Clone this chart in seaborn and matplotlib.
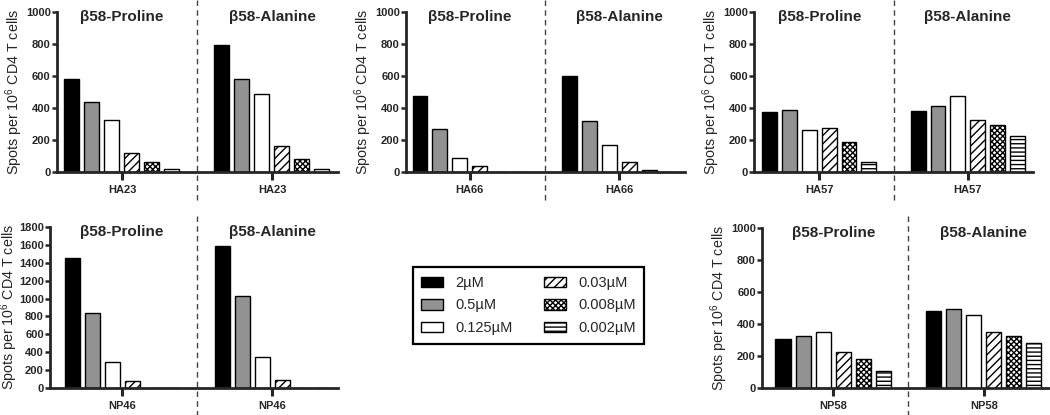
import numpy as np
import pandas as pd
import matplotlib
matplotlib.use("Agg")
import matplotlib.pyplot as plt
from matplotlib.patches import Patch
import seaborn as sns

# concentrations (legend order)
concentrations = ["2µM", "0.5µM", "0.125µM", "0.03µM", "0.008µM", "0.002µM"]
variants = ["β58-Proline", "β58-Alanine"]

# spots per 10^6 CD4 T cells
ha23_pro = [580, 440, 325, 120, 60, 20]
ha23_ala = [795, 580, 490, 165, 80, 20]
ha66_pro = [475, 270, 85, 35, 0, 0]
ha66_ala = [600, 320, 168, 65, 12, 0]
ha57_pro = [375, 390, 260, 272, 185, 65]
ha57_ala = [380, 415, 478, 322, 292, 222]
np46_pro = [1455, 835, 295, 80, 0, 0]
np46_ala = [1590, 1030, 350, 95, 0, 0]
np58_pro = [305, 325, 350, 222, 180, 105]
np58_ala = [480, 495, 458, 348, 325, 283]

fills = ["#000000", "#929292", "#ffffff", "#ffffff", "#ffffff", "#ffffff"]
hatches = ["", "", "", "////", "xxxxxx", "----"]
palette = dict(zip(concentrations, fills))

sns.set_style("ticks")
plt.rcParams["font.family"] = ["Liberation Sans", "DejaVu Sans"]
plt.rcParams["mathtext.fontset"] = "custom"
plt.rcParams["mathtext.rm"] = "Liberation Sans"
plt.rcParams["hatch.linewidth"] = 1.0

W, H = 1050, 415
fig = plt.figure(figsize=(W / 100, H / 100), dpi=100)


def make_panel(px_left, px_right, px_top, px_bottom, pro, ala, peptide, ymax, xleft,
               label_px=None):
    ax = fig.add_axes([px_left / W, 1 - px_bottom / H,
                       (px_right - px_left) / W, (px_bottom - px_top) / H])
    df = pd.DataFrame({
        "variant": np.repeat(variants, len(concentrations)),
        "conc": concentrations * 2,
        "spots": list(pro) + list(ala),
    })
    sns.barplot(data=df, x="variant", y="spots", hue="conc", order=variants,
                hue_order=concentrations, palette=palette, width=0.8, gap=0.25,
                edgecolor="black", linewidth=1.0, saturation=1, legend=False,
                errorbar=None, ax=ax)
    for cont, h in zip(ax.containers, hatches):
        for bar in cont:
            bar.set_hatch(h)
    ax.set_xlim(xleft, 1.44)
    ax.set_ylim(0, ymax)
    ax.set_yticks(np.arange(0, ymax + 1, 200))
    ax.set_xticks([0, 1])
    ax.set_xticklabels([peptide, peptide], fontweight="bold", fontsize=8)
    for lab in ax.get_yticklabels():
        lab.set_fontweight("bold")
        lab.set_fontsize(8)
    ax.tick_params(axis="y", length=3.5, width=1.8, pad=1.0)
    ax.tick_params(axis="x", length=6, width=2.2, pad=3)
    sns.despine(ax=ax)
    for s in ["left", "bottom"]:
        ax.spines[s].set_linewidth(2.0)
    ax.set_xlabel("")
    ax.set_ylabel("Spots per 10$^{6}$ CD4 T cells", fontsize=10.3, labelpad=0.5)
    if label_px is not None:
        # right edge of the rotated label, in figure pixels
        ax.yaxis.set_label_coords((label_px - px_left) / (px_right - px_left), 0.5)
    hpx = px_bottom - px_top
    ax.axvline(0.5, ymin=-28 / hpx, ymax=1 + 12 / hpx, color="#444444",
               linestyle=(0, (4, 3)), linewidth=1.0, clip_on=False)
    for i, v in enumerate(variants):
        ax.text(i, 0.97, v, transform=ax.get_xaxis_transform(), ha="center",
                va="center", fontsize=11, fontweight="bold")
    return ax


make_panel(57, 338, 12, 172, ha23_pro, ha23_ala, "HA23", 1000, -0.433)
make_panel(406, 685, 12, 172, ha66_pro, ha66_ala, "HA66", 1000, -0.427)
make_panel(754, 1033, 12, 172, ha57_pro, ha57_ala, "HA57", 1000, -0.44)
make_panel(50, 338, 227, 388, np46_pro, np46_ala, "NP46", 1800, -0.48, label_px=20)
make_panel(762, 1050, 228, 388, np58_pro, np58_ala, "NP58", 1000, -0.473)

handles = [Patch(facecolor=f, edgecolor="black", hatch=h, label=c, linewidth=1.0)
           for c, f, h in zip(concentrations, fills, hatches)]
leg = fig.legend(handles=handles, loc="center", bbox_to_anchor=(528.5 / W, 1 - 305.5 / H),
                 ncol=2, frameon=True, fancybox=False, framealpha=1, edgecolor="black",
                 fontsize=10.5, handlelength=1.5, handleheight=0.7, columnspacing=2.2,
                 labelspacing=0.6, borderpad=0.6)
leg.get_frame().set_linewidth(1.6)

fig.savefig("out.png", dpi=100)
